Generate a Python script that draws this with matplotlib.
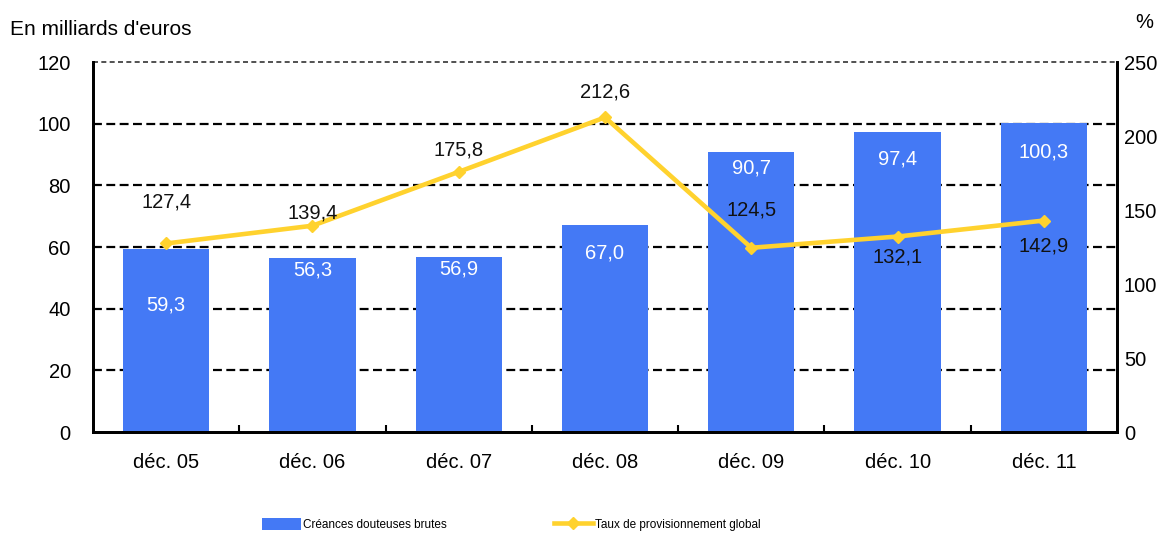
import matplotlib.pyplot as plt
from matplotlib.ticker import FixedLocator

plt.rcParams['font.family'] = ['Liberation Sans', 'DejaVu Sans']

# Créances douteuses brutes (Md€) et taux de provisionnement global (%)
periodes = ['déc. 05', 'déc. 06', 'déc. 07', 'déc. 08', 'déc. 09', 'déc. 10', 'déc. 11']
creances = [59.3, 56.3, 56.9, 67.0, 90.7, 97.4, 100.3]
taux = [127.4, 139.4, 175.8, 212.6, 124.5, 132.1, 142.9]

# décalages des étiquettes (pixels)
decal_barres = [-56, -12, -12, -28, -16, -27, -29]
decal_ligne = [41, 13, 22, 25, 38, -20, -25]

bleu = '#4479F5'
jaune = '#FFD22E'

fig = plt.figure(figsize=(11.61, 5.35), dpi=100)
ax = fig.add_axes([0.0801, 0.1925, 0.882, 0.6915])
x = range(len(periodes))

ax.set_axisbelow(True)
for v in [20, 40, 60, 80, 100]:
    ax.axhline(v, color='black', lw=1.6, ls=(0, (4, 2)), zorder=0)
ax.axhline(120, color='#333333', lw=1.2, ls=(0, (3, 2)), zorder=0, clip_on=False)
barres = ax.bar(x, creances, width=0.59, color=bleu, zorder=2, label='Créances douteuses brutes')
ax.set_xlim(-0.5, len(periodes) - 0.5)
ax.set_ylim(0, 120)
ax.set_yticks(range(0, 121, 20))
ax.set_xticks(list(x))
ax.set_xticklabels(periodes, fontsize=14.5)
ax.xaxis.set_minor_locator(FixedLocator([i + 0.5 for i in range(len(periodes) - 1)]))
ax.tick_params(axis='x', which='major', length=0, pad=15)
ax.tick_params(axis='x', which='minor', direction='in', length=5, width=1.5)
ax.tick_params(axis='y', length=0, labelsize=14.5, pad=16)
ax.spines['top'].set_visible(False)
for s in ['left', 'bottom', 'right']:
    ax.spines[s].set_linewidth(2)

for i, v in enumerate(creances):
    ax.annotate(f'{v:.1f}'.replace('.', ','), (i, v), xytext=(0, decal_barres[i]),
                textcoords='offset pixels', ha='center', va='center',
                color='white', fontsize=14.5, zorder=5)

ax2 = ax.twinx()
ax2.plot(x, taux, color=jaune, lw=3.3, marker='D', ms=6, zorder=3,
         label='Taux de provisionnement global')
ax2.set_ylim(0, 250)
ax2.set_yticks(range(0, 251, 50))
ax2.tick_params(axis='y', length=0, labelsize=14.5, pad=5)
ax2.spines['top'].set_visible(False)
for s in ['left', 'bottom', 'right']:
    ax2.spines[s].set_linewidth(2)

for i, v in enumerate(taux):
    ax2.annotate(f'{v:.1f}'.replace('.', ','), (i, v), xytext=(0, decal_ligne[i]),
                 textcoords='offset pixels', ha='center', va='center',
                 color='#111111', fontsize=14.5)

fig.text(0.009, 0.944, "En milliards d'euros", fontsize=15, va='center')
fig.text(0.986, 0.958, '%', fontsize=14.5, va='center', ha='center')

fig.legend(handles=[barres, ax2.get_lines()[0]], loc='center left', bbox_to_anchor=(0.2257, 0.019),
           ncol=2, frameon=False, fontsize=8.5, borderpad=0, borderaxespad=0,
           columnspacing=9.1, handlelength=3.3, handletextpad=0.15, handleheight=1.1)

fig.savefig('out.png', dpi=100)
